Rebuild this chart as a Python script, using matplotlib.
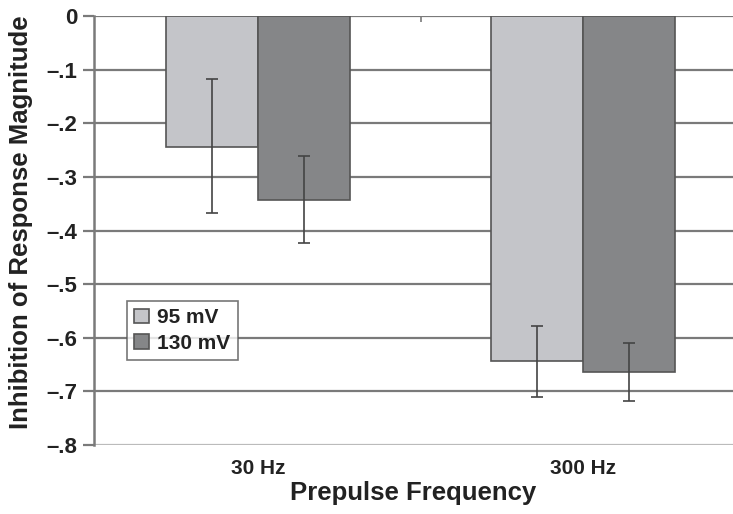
import matplotlib
matplotlib.use("Agg")
import matplotlib.pyplot as plt
import numpy as np

plt.rcParams["font.family"] = ["Liberation Sans", "DejaVu Sans"]
plt.rcParams["font.weight"] = "bold"
plt.rcParams["text.color"] = "#222222"
plt.rcParams["axes.labelcolor"] = "#222222"
plt.rcParams["xtick.labelcolor"] = "#222222"
plt.rcParams["ytick.labelcolor"] = "#222222"

# data
categories = ["30 Hz", "300 Hz"]
series_names = ["95 mV", "130 mV"]
mean_95 = [-0.245, -0.644]
mean_130 = [-0.343, -0.664]
# error bar ends (lower, upper)
err_lo_95 = [0.123, 0.066]
err_hi_95 = [0.127, 0.066]
err_lo_130 = [0.080, 0.054]
err_hi_130 = [0.082, 0.054]
ytick_vals = [0, -0.1, -0.2, -0.3, -0.4, -0.5, -0.6, -0.7, -0.8]
ytick_labels = ["0", "\u2013.1", "\u2013.2", "\u2013.3", "\u2013.4", "\u2013.5", "\u2013.6", "\u2013.7", "\u2013.8"]

fig = plt.figure(figsize=(7.33, 5.14), dpi=100)
ax = fig.add_axes([0.128, 0.134, 0.872, 0.835])

x = np.arange(len(categories))
w = 0.283
light = "#c4c5c9"
dark = "#858688"
edge = "#555555"

# grid first so bars sit on top
for v in ytick_vals[:-1]:
    ax.axhline(v, color="#7a7a7a", lw=1.6, zorder=0)
ax.axhline(-0.8, color="#bbbbbb", lw=1.6, zorder=0)

ax.bar(x - w / 2, mean_95, w, color=light, edgecolor=edge, lw=1.2, label=series_names[0], zorder=2)
ax.bar(x + w / 2, mean_130, w, color=dark, edgecolor=edge, lw=1.2, label=series_names[1], zorder=2)
ax.errorbar(x - w / 2, mean_95, yerr=[err_lo_95, err_hi_95], fmt="none",
            ecolor="#444444", elinewidth=1.2, capsize=4, capthick=1.2, zorder=3)
ax.errorbar(x + w / 2, mean_130, yerr=[err_lo_130, err_hi_130], fmt="none",
            ecolor="#444444", elinewidth=1.2, capsize=4, capthick=1.2, zorder=3)

ax.set_xlim(-0.505, 1.46)
ax.set_ylim(-0.8, 0)
ax.set_yticks(ytick_vals)
ax.set_yticklabels(ytick_labels)
ax.set_xticks(x)
ax.set_xticklabels(categories)
ax.set_xticks([0.5], minor=True)
ax.tick_params(axis="x", which="major", length=0, pad=10, labelsize=15)
ax.tick_params(axis="x", which="minor", top=True, bottom=False, direction="in",
               length=4, width=1.2, color="#7a7a7a")
ax.tick_params(axis="y", length=8, width=1.6, color="#7a7a7a", labelsize=16, pad=4)

for s in ["top", "right", "bottom"]:
    ax.spines[s].set_visible(False)
ax.spines["left"].set_color("#7a7a7a")
ax.spines["left"].set_linewidth(1.8)

ax.set_ylabel("Inhibition of Response Magnitude", fontsize=18.5, fontweight="bold")
ax.yaxis.set_label_coords(-0.095, 0.52)
ax.set_xlabel("Prepulse Frequency", fontsize=18.5, fontweight="bold", labelpad=2)

leg = ax.legend(loc="upper left", bbox_to_anchor=(0.052, 0.336), frameon=True, fancybox=False,
                edgecolor="#555555", fontsize=15, handlelength=0.7, handleheight=0.7,
                handletextpad=0.4, borderpad=0.35, labelspacing=0.32, borderaxespad=0)
leg.get_frame().set_linewidth(1.2)
leg.set_zorder(5)

fig.savefig("out.png", dpi=100)
